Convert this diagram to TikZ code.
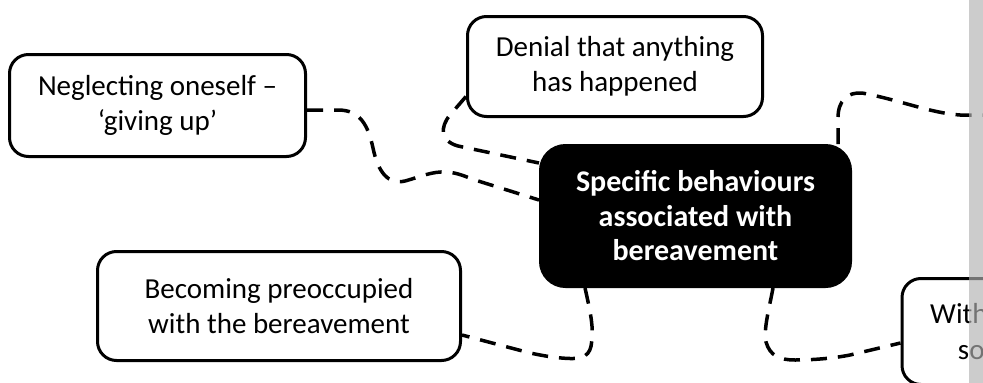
\documentclass[tikz,border=0pt]{standalone}
\usepackage{fontspec}
\setmainfont{Carlito}
\usetikzlibrary{calc}
\begin{document}
\begin{tikzpicture}[x=1pt,y=-1pt,
  bubble/.style={draw=black, line width=3pt, rounded corners=19pt, fill=white,
    align=center, inner sep=0pt, font=\fontsize{29}{35.4}\selectfont},
  hub/.style={fill=black, draw=black, line width=1pt, rounded corners=26pt,
    text=white, align=center, inner sep=0pt, font=\bfseries\fontsize{30}{34.5}\selectfont},
  link/.style={black, line width=3.5pt, dash pattern=on 16pt off 11pt},
  strip/.style={fill=black!30, fill opacity=0.65, draw=none}]
\useasboundingbox (0,0) rectangle (983,383);
\clip (0,0) rectangle (983,383);
\fill[white] (0,0) rectangle (983,383);

% central topic
\node[hub, minimum width=312pt, minimum height=143pt] (cen) at (695.5,216)
  {Specific behaviours\\associated with\\bereavement};

% surrounding behaviours
\node[bubble, minimum width=296pt, minimum height=102pt] (neg) at (157.5,105.5)
  {Neglecting oneself –\\‘giving up’};
\node[bubble, minimum width=295pt, minimum height=100pt] (den) at (615,66.5)
  {Denial that anything\\has happened};
\node[bubble, minimum width=363pt, minimum height=109pt] (pre) at (279,306)
  {Becoming preoccupied\\with the bereavement};
\node[bubble, minimum width=272pt, minimum height=106pt] (wd) at (1038,331.5)
  {Withdrawing from\\social contact};
\coordinate (offr) at (1010,115);

% dashed connectors
\draw[link] ($(neg.east)+(0,4.5)$) -- (338,110)
  .. controls (360,110) and (368,125) .. (373,148)
  .. controls (378,172) and (388,185) .. (405,181)
  .. controls (420,177) and (432,171) .. (447,172)
  .. controls (458,173) and (464,176) .. (475,180)
  -- ($(cen.west)+(0,-16)$);
\draw[link] ($(den.west)+(0,30)$) -- (450,115)
  .. controls (440,127) and (440,141) .. (458,146)
  -- ($(cen.west)+(0,-53)$);
\draw[link] ($(cen.north)+(142.5,0)$) -- (838,118)
  .. controls (838,100) and (848,92) .. (862,93)
  .. controls (900,100) and (930,113) .. (960,115)
  -- (offr);
\draw[link] ($(cen.south)+(-110.5,0)$)
  .. controls (590,310) and (593,325) .. (592,335)
  .. controls (592,352) and (588,359) .. (570,358.5)
  .. controls (555,358) and (545,356) .. (530,353)
  -- ($(pre.east)+(0,29)$);
\draw[link] ($(cen.south)+(77.5,0)$)
  .. controls (770,305) and (763,330) .. (766,342)
  .. controls (770,356) and (780,360) .. (795,360)
  .. controls (815,360) and (835,358) .. (850,355)
  -- ($(wd.west)+(0,11.5)$);

% shaded band along the right edge
\path[strip] (969,0) rectangle (983,383);
\end{tikzpicture}
\end{document}
